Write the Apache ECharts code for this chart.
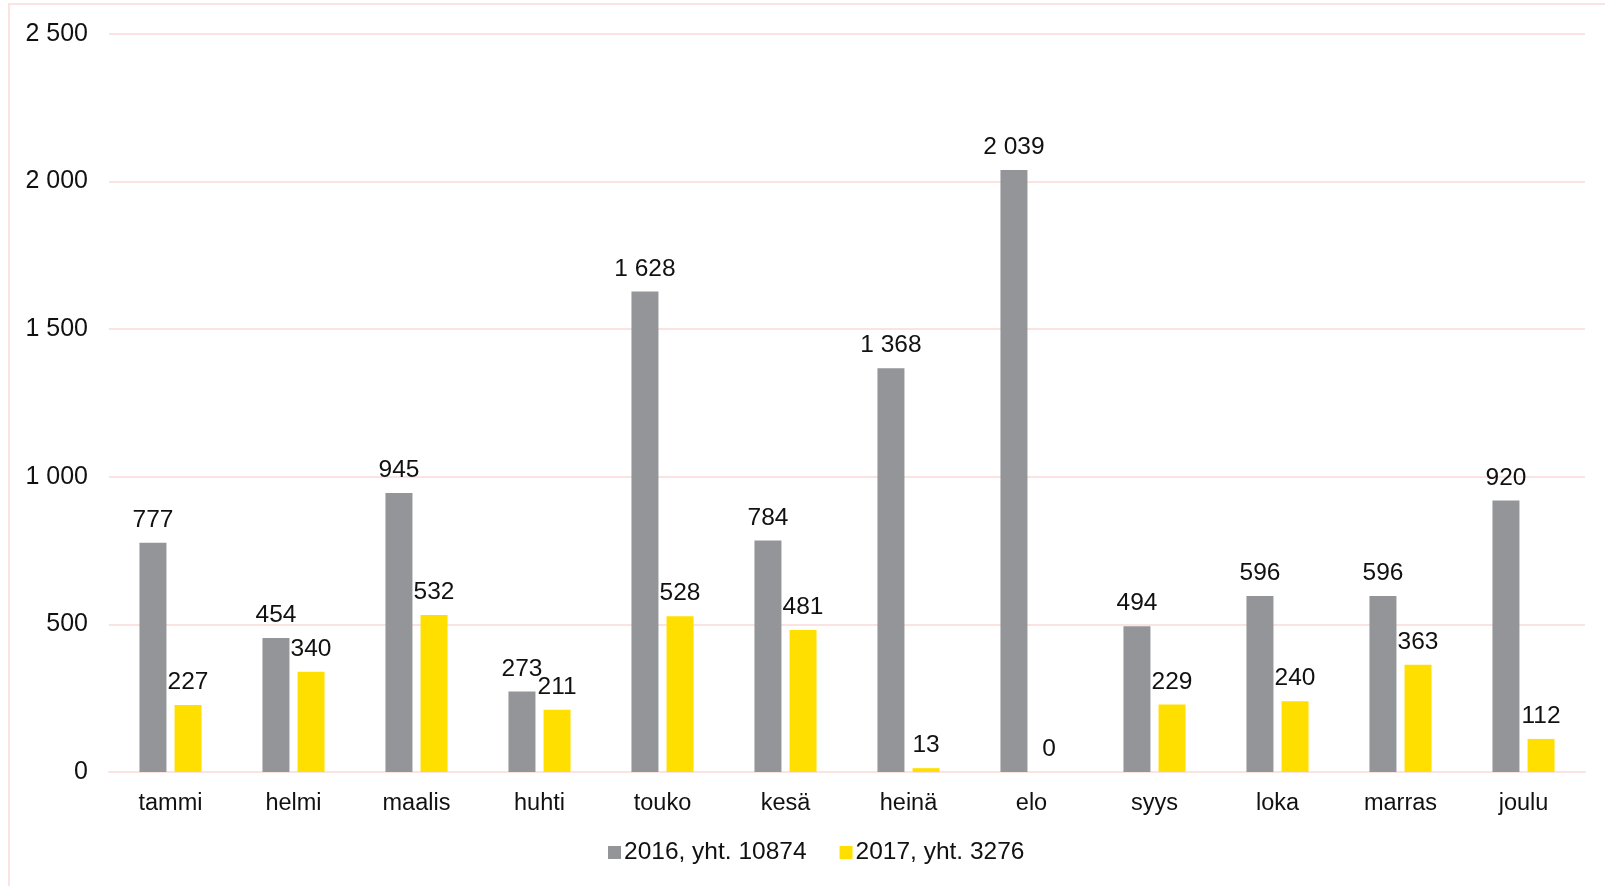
<!DOCTYPE html>
<html>
<head>
<meta charset="utf-8">
<script src="https://cdn.jsdelivr.net/npm/echarts@6/dist/echarts.min.js"></script>
<style>
html,body{margin:0;padding:0;background:#fff;}
#wrap{position:relative;width:1605px;height:886px;overflow:hidden;}
#frame{position:absolute;left:8px;top:3px;width:1700px;height:1000px;border-left:2px solid #FBE3E1;border-top:2px solid #FBE3E1;}
#chart{position:absolute;left:0;top:0;width:1605px;height:886px;}
</style>
</head>
<body>
<div id="wrap"><div id="frame"></div><div id="chart"></div></div>
<script>
const categories = ['tammi','helmi','maalis','huhti','touko','kesä','heinä','elo','syys','loka','marras','joulu'];
const series2016 = [777,454,945,273,1628,784,1368,2039,494,596,596,920];
const series2017 = [227,340,532,211,528,481,13,0,229,240,363,112];
const seriesNames = ['2016, yht. 10874','2017, yht. 3276'];

const fmt = v => String(v).replace(/\B(?=(\d{3})+(?!\d))/g, ' ');
const font = '"Liberation Sans", Arial, sans-serif';

const chart = echarts.init(document.getElementById('chart'));
const lbl = {show:true, position:'top', distance:10, color:'#111', fontSize:24.5, fontFamily:font, formatter:p=>fmt(p.value)};
chart.setOption({
  animation:false,
  grid:{left:109, right:20, top:34, bottom:114, containLabel:false},
  legend:{
    bottom:16, left:603, itemWidth:13, itemHeight:13, itemGap:33,
    icon:'rect',
    textStyle:{fontSize:24.5, color:'#111', fontFamily:font, padding:[0,0,0,-2]},
    data:seriesNames
  },
  xAxis:{
    type:'category', data:categories,
    axisLine:{show:true, lineStyle:{color:'#FBE3E1', width:2}},
    axisTick:{show:false},
    axisLabel:{fontSize:23.5, color:'#111', fontFamily:font, margin:20}
  },
  yAxis:{
    type:'value', min:0, max:2500, interval:500,
    axisLine:{show:false}, axisTick:{show:false},
    splitLine:{lineStyle:{color:'#FBE3E1', width:2}},
    axisLabel:{fontSize:25, color:'#111', fontFamily:font, margin:21, formatter:v=>fmt(v)}
  },
  series:[
    {name:seriesNames[0], type:'bar', data:series2016, barWidth:27, barGap:'30%', itemStyle:{color:'#939598'}, label:lbl},
    {name:seriesNames[1], type:'bar', data:series2017, barWidth:27, barGap:'30%', itemStyle:{color:'#FFDF00'}, label:lbl}
  ]
});
</script>
</body>
</html>
